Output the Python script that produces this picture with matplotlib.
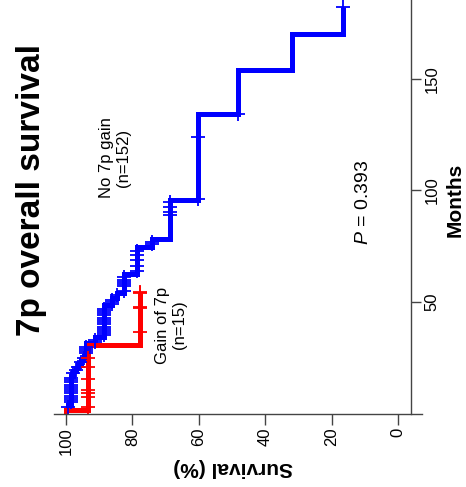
import numpy as np
import matplotlib
matplotlib.use("Agg")
import matplotlib.pyplot as plt

plt.rcParams['font.family'] = ['Liberation Sans', 'DejaVu Sans']
plt.rcParams['mathtext.fontset'] = 'custom'
plt.rcParams['mathtext.it'] = 'Liberation Sans:italic'
plt.rcParams['mathtext.rm'] = 'Liberation Sans'

# ---- data (months, survival %) ----
blue_event_months = [1.5, 4, 17, 19, 20.5, 22, 24, 26, 31.6, 34.3, 48.7, 52, 54, 62.4,
                     74.8, 78.2, 95.7, 134.3, 154.1, 170.2]
blue_event_surv = [99.3, 98.6, 97.9, 97.1, 96.3, 95.5, 94.7, 93.9, 91.3, 88.6, 86.2, 84.7,
                   82.4, 78.7, 74.2, 68.6, 60.3, 48.1, 31.9, 16.6]
blue_end = 182.3
blue_censor = [3, 5, 6, 7, 8, 9, 10, 11, 12, 13, 14, 15, 16, 18, 19.5, 21, 23, 25, 27, 28,
               29, 30, 32, 33, 35, 36, 37, 38, 39, 40, 41, 42, 43, 44, 45, 46, 47, 49, 50,
               51, 53, 55, 57, 58, 59, 60, 61, 64, 66, 69, 71, 73, 76, 77, 89, 90.5, 92.7,
               95, 96, 124, 134.5, 182.3]

red_event_months = [1.6, 30.7]
red_event_surv = [93.3, 77.8]
red_end = 54.6
red_censor = [3, 7.5, 9.2, 10.5, 15.5, 21, 25, 36.7, 47.2, 47.8, 54, 54.6]

surv_ticks = [100, 80, 60, 40, 20, 0]
month_ticks = [50, 100, 150]

W, H = 466, 487
fig = plt.figure(figsize=(W / 100, H / 100), dpi=100)
x0, x1 = 52.7, 411.3
ybot = 413.5
ax = fig.add_axes([x0 / W, (H - ybot) / H, (x1 - x0) / W, ybot / H])
ax.set_xlim(104, -4)
ax.set_ylim(0, 185.4)


def km_path(times, surv, end):
    t = [0.0]
    s = [100.0]
    cur = 100.0
    for ti, si in zip(times, surv):
        t += [ti, ti]
        s += [cur, si]
        cur = si
    t.append(end)
    s.append(cur)
    return np.array(t), np.array(s)


def surv_at(times, surv, q):
    times = np.asarray(times)
    surv = np.asarray(surv)
    idx = np.searchsorted(times, q, side='right') - 1
    out = np.where(idx >= 0, surv[np.clip(idx, 0, None)], 100.0)
    return out


for times, surv, end, cens, col in [
        (blue_event_months, blue_event_surv, blue_end, blue_censor, '#0000ff'),
        (red_event_months, red_event_surv, red_end, red_censor, '#ff0000')]:
    t, s = km_path(times, surv, end)
    ax.plot(s, t, color=col, lw=3.6, solid_joinstyle='miter', solid_capstyle='butt',
            zorder=3)
    cq = np.asarray(cens, dtype=float)
    ax.plot(surv_at(times, surv, cq), cq, linestyle='none', marker='+', color=col,
            markersize=10, mew=1.3, zorder=4)

# spines
for sp in ['left', 'top', 'bottom']:
    ax.spines[sp].set_visible(False)
ax.spines['right'].set_color('#444444')
ax.spines['right'].set_linewidth(1.0)
ax.plot([(54 - x0) / (x1 - x0), (422 - x0) / (x1 - x0)], [0, 0], transform=ax.transAxes,
        color='#444444', lw=1.0, clip_on=False, zorder=5)

ax.yaxis.tick_right()
ax.set_xticks(surv_ticks)
ax.set_xticklabels([str(v) for v in surv_ticks], rotation=90, fontsize=12)
ax.set_yticks(month_ticks)
ax.set_yticklabels([str(v) for v in month_ticks], rotation=90, fontsize=12, va='center')
ax.tick_params(axis='x', direction='out', length=8, width=1.0, color='#444444', pad=2)
ax.tick_params(axis='y', direction='out', length=7.5, width=1.0, color='#444444', pad=2)


def ft(x, y, s, **kw):
    fig.text(x / W, 1 - y / H, s, ha='center', va='center', **kw)


ft(32, 190, '7p overall survival', rotation=90, fontsize=24, fontweight='bold')
ft(233, 468, 'Survival (%)', rotation=180, fontsize=15, fontweight='bold')
ft(455, 200, 'Months', rotation=90, fontsize=15, fontweight='bold')
ft(115, 158, 'No 7p gain\n(n=152)', rotation=90, fontsize=12, linespacing=1.25,
   multialignment='center')
ft(171, 325, 'Gain of 7p\n(n=15)', rotation=90, fontsize=12, linespacing=1.25,
   multialignment='center')
ft(363, 202, r'$\it{P}$ = 0.393', rotation=90, fontsize=14)

fig.savefig('out.png', dpi=100)
